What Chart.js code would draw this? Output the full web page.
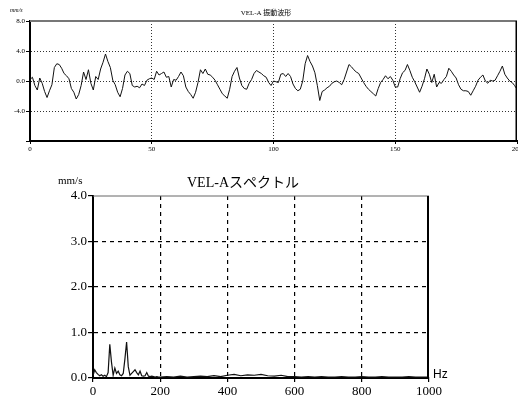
<!DOCTYPE html>
<html>
<head>
<meta charset="utf-8">
<script src="https://cdn.jsdelivr.net/npm/chart.js@4.4.0/dist/chart.umd.min.js"></script>
<style>
  body { margin: 0; background: #fff; }
  #wave { position: absolute; left: 0; top: 0; }
  #spec { position: absolute; left: 0; top: 160px; }
</style>
</head>
<body>
<canvas id="wave" width="518" height="160"></canvas>
<canvas id="spec" width="518" height="240"></canvas>
<script>
// textos
const waveTitle = "VEL-A 振動波形";
const specTitle = "VEL-Aスペクトル";
const unitLabel = "mm/s";
const freqLabel = "Hz";

// forma de onda (una muestra por unidad, 0..200)
const waveValues = [
  0.2, 0.5, -0.6, -1.2, 0.4, -0.3, -1.4, -2.2, -1.3, -0.5, 1.8,
  2.3, 2.2, 1.7, 1.0, 0.7, 0.3, -1.0, -1.5, -2.4, -1.8,
  -0.6, 1.2, 0.2, 1.5, -0.3, -1.2, 0.6, 0.2, 1.6, 2.5,
  3.6, 2.6, 1.8, 0.1, -0.5, -1.5, -2.1, -1.0, 0.8, 1.3,
  1.0, -0.6, -0.8, -0.7, -0.9, -0.4, -0.6, 0.1, 0.3, 0.4,
  0.2, 1.3, 0.8, 1.0, 1.2, 0.5, 0.6, -0.8, 0.2, 0.1,
  0.6, 1.2, 0.7, -0.8, -1.4, -1.8, -2.3, -1.5, -0.2, 1.5,
  1.0, 1.6, 0.9, 0.8, 0.5, 0.1, -0.5, -1.1, -1.7, -2.0,
  -2.3, -1.1, 0.6, 1.3, 1.8, 0.4, -0.6, -1.0, -1.1, -0.3,
  0.2, 1.0, 1.4, 1.2, 1.0, 0.7, 0.5, -0.2, -0.6, 0.0,
  -0.1, -0.2, 0.9, 1.0, 0.6, 1.0, 0.6, -0.4, -1.0, -1.3,
  -1.1, 0.0, 2.3, 3.4, 2.6, 2.0, 1.1, -0.6, -2.6, -1.4,
  -1.2, -0.9, -0.7, -0.3, -0.1, 0.0, -0.2, -0.5, 0.2, 1.2,
  2.2, 1.9, 1.5, 1.2, 1.0, 0.4, -0.2, -0.7, -1.1, -1.4,
  -1.7, -2.0, -1.0, -0.2, 0.2, 0.7, 0.3, 0.6, 0.1, -0.8,
  -0.8, 0.3, 1.1, 1.4, 2.2, 1.4, 0.5, -0.1, -0.8, -1.5,
  -0.7, 0.3, 1.6, 0.9, -0.2, 0.9, -0.8, -0.2, -0.3, 0.2,
  0.6, 1.7, 1.3, 0.8, 0.4, -0.5, -1.1, -1.3, -1.3, -1.4,
  -1.9, -1.3, -0.7, 0.1, 0.5, 0.8, 0.0, -0.3, 0.1, 0.0,
  0.1, 0.7, 1.3, 2.0, 0.9, 0.4, 0.0, -0.2, -0.6, -1.1
];

// espectro
const specHz = [
  0, 5, 10, 15, 20, 25, 30, 35, 40, 45, 50, 55, 60, 65, 70, 75, 80, 85, 90, 95,
  100, 105, 110, 115, 120, 125, 130, 135, 140, 145, 150, 155, 160, 165, 170, 175, 180, 185, 190, 195, 200,
  220, 240, 260, 280, 300, 320, 340, 360, 380, 400, 420, 440, 460, 480, 500, 520, 540, 560, 580, 600,
  620, 640, 660, 680, 700, 720, 740, 760, 780, 800, 820, 840, 860, 880, 900, 920, 940, 960, 980, 1000
];
const specAmp = [
  0.05, 0.18, 0.12, 0.08, 0.05, 0.07, 0.04, 0.06, 0.03, 0.12, 0.74, 0.35, 0.06, 0.22, 0.10, 0.15, 0.07, 0.05, 0.10, 0.42,
  0.79, 0.25, 0.06, 0.10, 0.14, 0.18, 0.12, 0.07, 0.15, 0.05, 0.04, 0.05, 0.12, 0.04, 0.03, 0.04, 0.03, 0.02, 0.03, 0.02, 0.02,
  0.03, 0.02, 0.04, 0.02, 0.03, 0.04, 0.03, 0.05, 0.03, 0.06, 0.08, 0.05, 0.07, 0.06, 0.08, 0.05, 0.04, 0.06, 0.03, 0.03,
  0.02, 0.03, 0.02, 0.03, 0.02, 0.02, 0.03, 0.02, 0.02, 0.03, 0.02, 0.02, 0.03, 0.02, 0.02, 0.02, 0.03, 0.02, 0.02, 0.02
];

const serif = "'Liberation Serif', 'Noto Sans CJK JP', serif";
const clear = "rgba(0,0,0,0)";

// marco y textos sobre el lienzo
function decor(opts) {
  return {
    id: "decor",
    afterDraw(chart) {
      const { ctx, chartArea: a } = chart;
      ctx.save();
      ctx.strokeStyle = opts.topColor;
      ctx.lineWidth = opts.topWidth;
      ctx.beginPath();
      ctx.moveTo(a.left, a.top);
      ctx.lineTo(a.right, a.top);
      ctx.stroke();
      ctx.strokeStyle = "#000";
      ctx.lineWidth = opts.rightWidth;
      ctx.beginPath();
      ctx.moveTo(a.right - opts.rightWidth / 2, a.top);
      ctx.lineTo(a.right - opts.rightWidth / 2, a.bottom);
      ctx.stroke();
      ctx.fillStyle = "#000";
      ctx.textBaseline = "middle";
      opts.texts.forEach((t) => {
        ctx.font = t.font;
        ctx.textAlign = t.align;
        ctx.fillText(t.text, t.x, t.y);
      });
      ctx.restore();
    },
  };
}

// grafico de forma de onda
new Chart(document.getElementById("wave"), {
  type: "line",
  data: {
    datasets: [{
      data: waveValues.map((v, i) => ({ x: i, y: v })),
      borderColor: "#111",
      borderWidth: 1,
      pointRadius: 0,
      tension: 0,
    }],
  },
  options: {
    responsive: false,
    animation: false,
    layout: { padding: { top: 21, right: 1, left: 0, bottom: 0 } },
    plugins: { legend: { display: false }, tooltip: { enabled: false } },
    scales: {
      x: {
        type: "linear", min: 0, max: 200,
        ticks: { stepSize: 50, color: "#000", padding: 1, maxRotation: 0, font: { size: 7, family: serif },
          callback: (v) => String(v) },
        grid: {
          color: (c) => (c.tick && (c.tick.value === 0 || c.tick.value === 200) ? clear : "#333"),
          tickColor: "#000", tickLength: 3,
        },
        border: { color: "#000", width: 2, dash: [1, 2] },
        afterFit: (a) => { a.height = 19; a.paddingLeft = 0; a.paddingRight = 0; },
      },
      y: {
        min: -8, max: 8,
        ticks: {
          stepSize: 4, color: "#000", padding: 1, font: { size: 7, family: serif },
          callback: (v) => (v === -8 ? "" : v.toFixed(1)),
        },
        grid: {
          color: (c) => (c.tick && Math.abs(c.tick.value) === 8 ? clear : "#333"),
          tickColor: "#000", tickLength: 4,
        },
        border: { color: "#000", width: 2, dash: [1, 2] },
        afterFit: (a) => { a.width = 30; a.paddingTop = 0; a.paddingBottom = 0; },
      },
    },
  },
  plugins: [decor({
    topColor: "#777", topWidth: 2, rightWidth: 1.5,
    texts: [
      { text: unitLabel, x: 10, y: 10, align: "left", font: "italic 6px " + serif },
      { text: waveTitle, x: 266, y: 13, align: "center", font: "7px " + serif },
    ],
  })],
});

// grafico del espectro
new Chart(document.getElementById("spec"), {
  type: "line",
  data: {
    datasets: [{
      data: specHz.map((hz, i) => ({ x: hz, y: specAmp[i] })),
      borderColor: "#111",
      borderWidth: 1.2,
      pointRadius: 0,
      tension: 0,
    }],
  },
  options: {
    responsive: false,
    animation: false,
    layout: { padding: { top: 36, right: 89, left: 0, bottom: 0 } },
    plugins: { legend: { display: false }, tooltip: { enabled: false } },
    scales: {
      x: {
        type: "linear", min: 0, max: 1000,
        ticks: { stepSize: 200, color: "#000", padding: 2, maxRotation: 0, font: { size: 13, family: serif },
          callback: (v) => String(v) },
        grid: {
          color: (c) => (c.tick && (c.tick.value === 0 || c.tick.value === 1000) ? clear : "#000"),
          tickColor: "#000", tickLength: 4, lineWidth: 1.2,
        },
        border: { color: "#000", width: 2, dash: [4, 4] },
        afterFit: (a) => { a.height = 22; a.paddingLeft = 0; a.paddingRight = 0; },
      },
      y: {
        min: 0, max: 4,
        ticks: {
          stepSize: 1, color: "#000", padding: 1, font: { size: 13, family: serif },
          callback: (v) => v.toFixed(1),
        },
        grid: {
          color: (c) => (c.tick && (c.tick.value === 0 || c.tick.value === 4) ? clear : "#000"),
          tickColor: "#000", tickLength: 5, lineWidth: 1.2,
        },
        border: { color: "#000", width: 2, dash: [4, 4] },
        afterFit: (a) => { a.width = 93; a.paddingTop = 0; a.paddingBottom = 0; },
      },
    },
  },
  plugins: [decor({
    topColor: "#666", topWidth: 1, rightWidth: 2,
    texts: [
      { text: unitLabel, x: 58, y: 21, align: "left", font: "11px " + serif },
      { text: specTitle, x: 243, y: 23, align: "center", font: "14px " + serif },
      { text: freqLabel, x: 433, y: 215, align: "left", font: "12px 'Liberation Sans', sans-serif" },
    ],
  })],
});
</script>
</body>
</html>
